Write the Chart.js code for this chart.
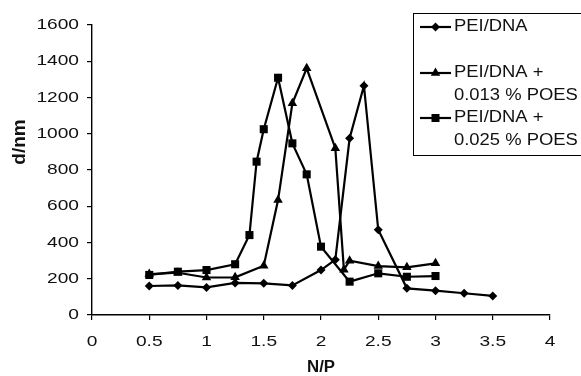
<!DOCTYPE html>
<html>
<head>
<meta charset="utf-8">
<script src="https://cdn.jsdelivr.net/npm/chart.js@4.4.1/dist/chart.umd.min.js"></script>
<style>
  html, body { margin: 0; padding: 0; background: #fff; }
  #wrap { width: 581px; height: 376px; }
</style>
</head>
<body>
<div id="wrap"><canvas id="grafico" width="581" height="376"></canvas></div>
<script>
// Dados
const peiX = [0.5, 0.75, 1, 1.25, 1.5, 1.75, 2, 2.125, 2.25, 2.375, 2.5, 2.75, 3, 3.25, 3.5];
const peiY = [160, 163, 152, 177, 175, 163, 248, 305, 975, 1265, 470, 147, 134, 120, 105];

const poes13X = [0.5, 0.75, 1, 1.25, 1.5, 1.625, 1.75, 1.875, 2.125, 2.2, 2.25, 2.5, 2.75, 3];
const poes13Y = [226, 233, 207, 208, 272, 634, 1168, 1361, 920, 250, 300, 270, 263, 285];

const poes25X = [0.5, 0.75, 1, 1.25, 1.375, 1.4375, 1.5, 1.625, 1.75, 1.875, 2, 2.25, 2.5, 2.75, 3];
const poes25Y = [221, 239, 248, 280, 441, 846, 1025, 1309, 947, 776, 377, 184, 230, 211, 215];

const xTicks = [0, 0.5, 1, 1.5, 2, 2.5, 3, 3.5, 4];
const yTicks = [0, 200, 400, 600, 800, 1000, 1200, 1400, 1600];

const legendLabels = [['PEI/DNA'], ['PEI/DNA +', '0.013 % POES'], ['PEI/DNA +', '0.025 % POES']];
const legendStyles = ['rectRot', 'triangle', 'rect'];

const FONTE = '"Liberation Sans", Arial, sans-serif';
const COR_TEXTO = '#111';

const pontos = (xs, ys) => xs.map((x, i) => ({ x, y: ys[i] }));

// texto esticado na horizontal (o original está mais largo)
function texto(ctx, txt, x, y, font, sx, align) {
    ctx.save();
    ctx.translate(x, y);
    ctx.scale(sx, 1);
    ctx.font = font;
    ctx.fillStyle = COR_TEXTO;
    ctx.textAlign = align;
    ctx.textBaseline = 'middle';
    ctx.fillText(txt, 0, 0);
    ctx.restore();
}

function marcador(ctx, estilo, x, y) {
    ctx.beginPath();
    if (estilo === 'rectRot') {
        const r = 4.5;
        ctx.moveTo(x, y - r); ctx.lineTo(x + r, y); ctx.lineTo(x, y + r); ctx.lineTo(x - r, y);
    } else if (estilo === 'triangle') {
        const r = 5.5;
        ctx.moveTo(x, y - r);
        ctx.lineTo(x + r * 0.866, y + r * 0.5);
        ctx.lineTo(x - r * 0.866, y + r * 0.5);
    } else {
        const h = 4;
        ctx.rect(x - h, y - h, 2 * h, 2 * h);
    }
    ctx.closePath();
    ctx.fill();
}

const textosPlugin = {
    id: 'textos',
    afterDraw(chart) {
        const ctx = chart.ctx;
        const xs = chart.scales.x, ys = chart.scales.y;

        yTicks.forEach(v => texto(ctx, String(v), 79, ys.getPixelForValue(v), '14.5px ' + FONTE, 1.32, 'right'));
        xTicks.forEach(v => texto(ctx, String(v), xs.getPixelForValue(v), 342, '14.5px ' + FONTE, 1.32, 'center'));

        texto(ctx, 'N/P', (xs.left + xs.right) / 2, 368, 'bold 16px ' + FONTE, 1.05, 'center');

        ctx.save();
        ctx.translate(20, 142);
        ctx.rotate(-Math.PI / 2);
        ctx.font = 'bold 19px ' + FONTE;
        ctx.fillStyle = COR_TEXTO;
        ctx.textAlign = 'center';
        ctx.textBaseline = 'middle';
        ctx.fillText('d/nm', 0, 0);
        ctx.restore();

        // legenda
        ctx.save();
        ctx.fillStyle = '#fff';
        ctx.fillRect(413.5, 13.5, 180, 142);
        ctx.strokeStyle = '#000';
        ctx.lineWidth = 1;
        ctx.strokeRect(413.5, 13.5, 180, 142);
        const linhaY = [27, 73, 118];
        legendLabels.forEach((linhas, i) => {
            const y = linhaY[i];
            ctx.strokeStyle = '#000';
            ctx.lineWidth = 2.2;
            ctx.beginPath();
            ctx.moveTo(420, y);
            ctx.lineTo(451, y);
            ctx.stroke();
            ctx.fillStyle = '#000';
            marcador(ctx, legendStyles[i], 435.5, y);
            linhas.forEach((t, j) => texto(ctx, t, 454, y + j * 22.5, '16px ' + FONTE, 1.15, 'left'));
        });
        ctx.restore();
    }
};

const serie = (label, data, estilo, raio, ordem) => ({
    label,
    data,
    borderColor: '#000',
    backgroundColor: '#000',
    borderWidth: 2.2,
    pointStyle: estilo,
    pointRadius: raio,
    pointBorderWidth: 0,
    pointBackgroundColor: '#000',
    tension: 0,
    order: ordem
});

new Chart(document.getElementById('grafico').getContext('2d'), {
    type: 'line',
    data: {
        datasets: [
            serie('PEI/DNA', pontos(peiX, peiY), 'rectRot', 4.5, 2),
            serie('PEI/DNA + 0.013 % POES', pontos(poes13X, poes13Y), 'triangle', 5.5, 1),
            serie('PEI/DNA + 0.025 % POES', pontos(poes25X, poes25Y), 'rect', 5.7, 0)
        ]
    },
    options: {
        responsive: false,
        animation: false,
        layout: { padding: { left: 0, top: 25, right: 31, bottom: 0 } },
        plugins: { legend: { display: false }, tooltip: { enabled: false } },
        scales: {
            x: {
                type: 'linear',
                min: 0,
                max: 4,
                afterBuildTicks: s => { s.ticks = xTicks.map(v => ({ value: v })); },
                afterFit: s => { s.height = 61; },
                ticks: { display: false },
                grid: { drawOnChartArea: false, drawTicks: true, tickLength: 5, color: '#000', lineWidth: 1.2 },
                border: { color: '#000', width: 1.4 }
            },
            y: {
                min: 0,
                max: 1600,
                afterBuildTicks: s => { s.ticks = yTicks.map(v => ({ value: v })); },
                afterFit: s => { s.width = 92; },
                ticks: { display: false },
                grid: { drawOnChartArea: false, drawTicks: true, tickLength: 5, color: '#000', lineWidth: 1.2 },
                border: { color: '#000', width: 1.4 }
            }
        }
    },
    plugins: [textosPlugin]
});
</script>
</body>
</html>
